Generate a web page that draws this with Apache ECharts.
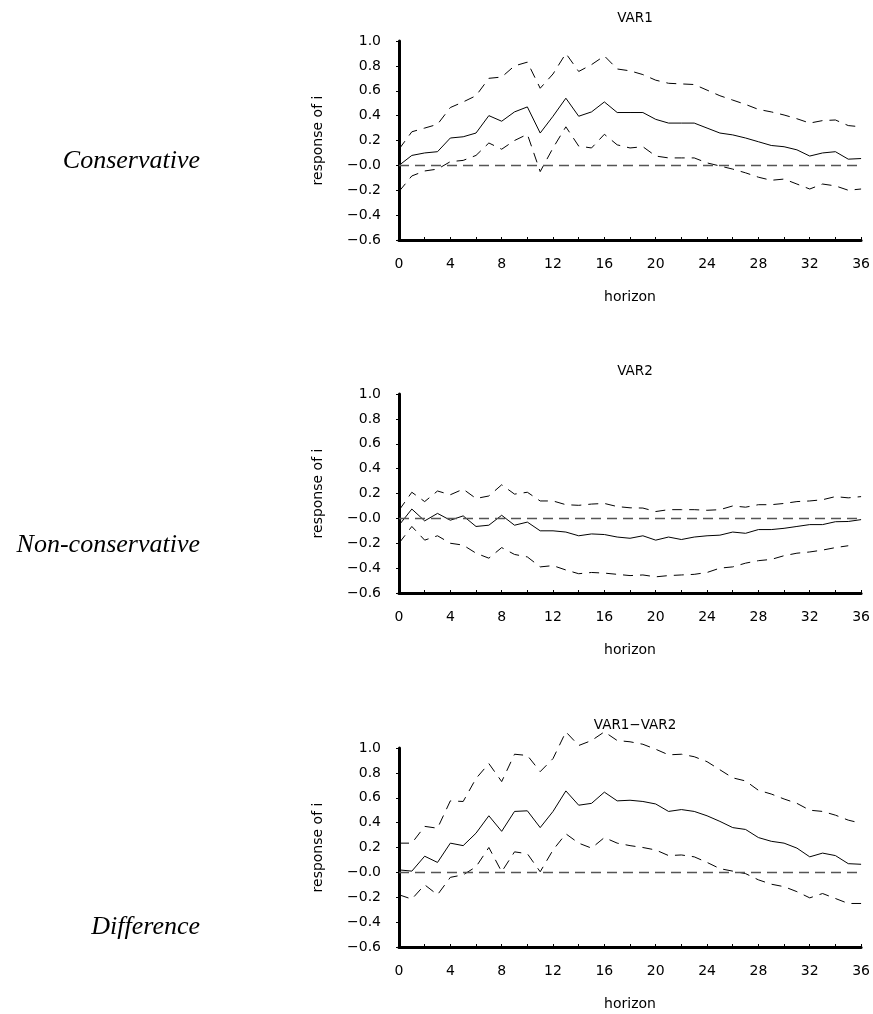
<!DOCTYPE html>
<html>
<head>
<meta charset="utf-8">
<script src="https://cdn.jsdelivr.net/npm/echarts@6/dist/echarts.min.js"></script>
<style>
  html, body { margin: 0; padding: 0; background: #fff; }
  #chart { width: 873px; height: 1014px; }
</style>
</head>
<body>
<div id="chart"></div>
<script>
// horizons 0..36
const horizons = Array.from({ length: 37 }, (_, i) => i);

const panelTitles = ['VAR1', 'VAR2', 'VAR1\u2212VAR2'];
const rowLabels = ['Conservative', 'Non-conservative', 'Difference'];

// VAR1 (conservative)
const var1Mid = [0.0, 0.08, 0.10, 0.11, 0.22, 0.23, 0.26, 0.40, 0.355, 0.43, 0.47, 0.26, 0.395, 0.54, 0.395, 0.43, 0.51, 0.425, 0.425, 0.425, 0.37, 0.34, 0.34, 0.34, 0.30, 0.26, 0.245, 0.22, 0.19, 0.16, 0.15, 0.125, 0.075, 0.10, 0.11, 0.05, 0.055];
const var1Up = [0.13, 0.27, 0.30, 0.33, 0.465, 0.51, 0.56, 0.70, 0.71, 0.80, 0.83, 0.62, 0.735, 0.90, 0.755, 0.81, 0.88, 0.775, 0.76, 0.73, 0.685, 0.66, 0.655, 0.65, 0.605, 0.56, 0.525, 0.49, 0.45, 0.43, 0.405, 0.375, 0.34, 0.36, 0.365, 0.32, 0.31];
const var1Lo = [-0.21, -0.085, -0.045, -0.03, 0.03, 0.04, 0.08, 0.18, 0.13, 0.20, 0.25, -0.05, 0.14, 0.31, 0.155, 0.14, 0.25, 0.165, 0.14, 0.15, 0.075, 0.06, 0.06, 0.06, 0.02, -0.005, -0.03, -0.06, -0.095, -0.12, -0.11, -0.15, -0.19, -0.15, -0.165, -0.20, -0.19];

// VAR2 (non-conservative)
const var2Mid = [-0.055, 0.075, -0.02, 0.04, -0.015, 0.02, -0.065, -0.055, 0.025, -0.055, -0.03, -0.10, -0.10, -0.11, -0.14, -0.125, -0.13, -0.15, -0.16, -0.14, -0.175, -0.15, -0.17, -0.15, -0.14, -0.135, -0.11, -0.12, -0.09, -0.09, -0.08, -0.065, -0.05, -0.05, -0.027, -0.025, -0.01];
const var2Up = [0.065, 0.21, 0.135, 0.22, 0.19, 0.235, 0.16, 0.18, 0.27, 0.195, 0.21, 0.14, 0.14, 0.11, 0.105, 0.115, 0.12, 0.095, 0.085, 0.083, 0.055, 0.07, 0.07, 0.07, 0.065, 0.07, 0.10, 0.09, 0.11, 0.11, 0.12, 0.135, 0.14, 0.15, 0.175, 0.165, 0.175];
const var2Lo = [-0.20, -0.065, -0.175, -0.14, -0.20, -0.215, -0.28, -0.32, -0.235, -0.29, -0.31, -0.39, -0.38, -0.415, -0.445, -0.435, -0.44, -0.45, -0.46, -0.455, -0.47, -0.46, -0.455, -0.45, -0.435, -0.40, -0.39, -0.36, -0.34, -0.33, -0.30, -0.28, -0.27, -0.255, -0.235, -0.22, null];

// VAR1 - VAR2 (difference)
const diffMid = [0.02, 0.01, 0.13, 0.08, 0.235, 0.215, 0.315, 0.455, 0.33, 0.49, 0.495, 0.36, 0.49, 0.655, 0.54, 0.555, 0.645, 0.575, 0.58, 0.57, 0.55, 0.49, 0.505, 0.49, 0.455, 0.41, 0.36, 0.345, 0.28, 0.25, 0.235, 0.195, 0.125, 0.155, 0.135, 0.07, 0.065];
const diffUp = [0.235, 0.235, 0.37, 0.355, 0.575, 0.57, 0.755, 0.875, 0.73, 0.95, 0.94, 0.81, 0.915, 1.13, 1.02, 1.06, 1.13, 1.06, 1.05, 1.03, 0.99, 0.945, 0.95, 0.93, 0.89, 0.825, 0.76, 0.735, 0.66, 0.63, 0.59, 0.555, 0.50, 0.49, 0.46, 0.42, 0.395];
const diffLo = [-0.18, -0.215, -0.10, -0.18, -0.04, -0.02, 0.045, 0.20, 0.005, 0.165, 0.15, 0.005, 0.18, 0.31, 0.235, 0.195, 0.28, 0.235, 0.215, 0.20, 0.18, 0.135, 0.14, 0.125, 0.08, 0.03, 0.01, -0.01, -0.06, -0.095, -0.115, -0.155, -0.205, -0.17, -0.21, -0.25, -0.25];

const panels = [
  { mid: var1Mid, up: var1Up, lo: var1Lo },
  { mid: var2Mid, up: var2Up, lo: var2Lo },
  { mid: diffMid, up: diffUp, lo: diffLo },
];

const gridTops = [41, 394, 748];
const font = 'DejaVu Sans';

const pairs = arr => horizons.map((h, i) => [h, arr[i]]);

const chart = echarts.init(document.getElementById('chart'), null, { renderer: 'canvas' });

const grids = [], xAxes = [], yAxes = [], series = [], titles = [], graphics = [];

panels.forEach((p, k) => {
  grids.push({ left: 399, top: gridTops[k], width: 463, height: 199 });

  titles.push({
    text: panelTitles[k],
    left: 630,
    top: gridTops[k] - 35,
    textAlign: 'center',
    textStyle: { fontFamily: font, fontSize: 13.5, fontWeight: 'normal', color: '#000' },
  });

  xAxes.push({
    gridIndex: k,
    type: 'value',
    min: 0,
    max: 36,
    interval: 4,
    name: 'horizon',
    nameLocation: 'middle',
    nameGap: 50,
    nameTextStyle: { fontFamily: font, fontSize: 14, color: '#000' },
    axisLine: { onZero: false, lineStyle: { color: '#000', width: 3 } },
    axisTick: { inside: true, length: 3, lineStyle: { color: '#000', width: 1 } },
    minorTick: { show: true, splitNumber: 2, length: 3, lineStyle: { color: '#000', width: 1 } },
    axisLabel: { fontFamily: font, fontSize: 14, color: '#000', margin: 17 },
    splitLine: { show: false },
  });

  yAxes.push({
    gridIndex: k,
    type: 'value',
    min: -0.6,
    max: 1.0,
    interval: 0.2,
    name: 'response of i',
    nameLocation: 'middle',
    nameGap: 74,
    nameTextStyle: { fontFamily: font, fontSize: 14, color: '#000' },
    axisLine: { show: true, onZero: false, lineStyle: { color: '#000', width: 3 } },
    axisTick: { show: true, length: 3, lineStyle: { color: '#000', width: 1 } },
    axisLabel: {
      fontFamily: font, fontSize: 14, color: '#000', margin: 18,
      formatter: v => (v < 0.0001 ? '\u2212' : '') + Math.abs(v).toFixed(1),
    },
    splitLine: { show: false },
  });

  const dashed = { color: '#000', width: 1, type: [10, 7] };

  series.push({
    type: 'line',
    xAxisIndex: k,
    yAxisIndex: k,
    data: pairs(p.mid),
    symbol: 'none',
    clip: false,
    lineStyle: { color: '#000', width: 1 },
    markLine: {
      silent: true,
      symbol: 'none',
      label: { show: false },
      lineStyle: { color: '#555', width: 1.3, type: [10, 6] },
      data: [{ yAxis: 0 }],
    },
  });
  series.push({
    type: 'line', xAxisIndex: k, yAxisIndex: k,
    data: pairs(p.up), symbol: 'none', clip: false, lineStyle: dashed,
  });
  series.push({
    type: 'line', xAxisIndex: k, yAxisIndex: k,
    data: pairs(p.lo), symbol: 'none', clip: false, lineStyle: dashed,
  });
});

const rowLabelY = [161, 545, 927];
rowLabels.forEach((t, k) => {
  graphics.push({
    type: 'text',
    x: 200,
    y: rowLabelY[k],
    style: {
      text: t,
      align: 'right',
      verticalAlign: 'middle',
      fontFamily: 'Liberation Serif',
      fontStyle: 'italic',
      fontSize: 26,
      fill: '#000',
    },
  });
});

chart.setOption({
  backgroundColor: '#fff',
  animation: false,
  title: titles,
  grid: grids,
  xAxis: xAxes,
  yAxis: yAxes,
  series: series,
  graphic: graphics,
});
</script>
</body>
</html>
